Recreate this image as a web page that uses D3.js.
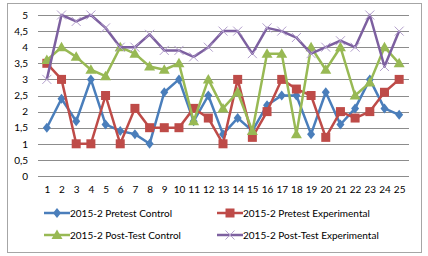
<!DOCTYPE html>
<html>
<head>
<meta charset="utf-8">
<script src="https://cdn.jsdelivr.net/npm/d3@7"></script>
<style>
  body { margin: 0; background: #fff; }
  svg text { font-family: Lato, "Open Sans", sans-serif; fill: #000; }
</style>
</head>
<body>
<div id="chart"></div>
<script>
// Data
const students = d3.range(1, 26).map(String);
const pretestControl = [1.5, 2.4, 1.7, 3.0, 1.6, 1.4, 1.3, 1.0, 2.6, 3.0, 1.7, 2.5, 1.3, 1.8, 1.4, 2.2, 2.5, 2.5, 1.3, 2.6, 1.6, 2.1, 3.0, 2.1, 1.9];
const pretestExperimental = [3.5, 3.0, 1.0, 1.0, 2.5, 1.0, 2.1, 1.5, 1.5, 1.5, 2.1, 1.8, 1.0, 3.0, 1.2, 2.0, 3.0, 2.7, 2.5, 1.2, 2.0, 1.8, 2.0, 2.6, 3.0];
const postControl = [3.6, 4.0, 3.7, 3.3, 3.1, 4.0, 3.8, 3.4, 3.3, 3.5, 1.7, 3.0, 2.1, 2.6, 1.4, 3.8, 3.8, 1.3, 4.0, 3.3, 4.0, 2.5, 2.9, 4.0, 3.5];
const postExperimental = [3.0, 5.0, 4.8, 5.0, 4.6, 4.0, 4.0, 4.4, 3.9, 3.9, 3.7, 4.0, 4.5, 4.5, 3.8, 4.6, 4.5, 4.3, 3.8, 4.0, 4.2, 4.0, 5.0, 3.4, 4.5];
const yTicks = [0, 0.5, 1, 1.5, 2, 2.5, 3, 3.5, 4, 4.5, 5];

const series = [
    { name: '2015-2 Pretest Control', values: pretestControl, color: '#4a7ebb', marker: 'diamond' },
    { name: '2015-2 Pretest Experimental', values: pretestExperimental, color: '#be4b48', marker: 'square' },
    { name: '2015-2 Post-Test Control', values: postControl, color: '#98b954', marker: 'triangle' },
    { name: '2015-2 Post-Test Experimental', values: postExperimental, color: '#7d60a0', marker: 'cross' }
];

const W = 428, H = 256;
const svg = d3.select('#chart').append('svg')
    .attr('width', W)
    .attr('height', H);

// chart frame
svg.append('rect')
    .attr('x', 7.5).attr('y', 3.5)
    .attr('width', 414).attr('height', 249)
    .attr('fill', '#fff')
    .attr('stroke', '#a6a6a6');

const x = d3.scalePoint().domain(students).range([39.5, 406.5]).padding(0.5);
const y = d3.scaleLinear().domain([0, 5]).range([176, 15]);

// grid lines
svg.append('g')
    .selectAll('line')
    .data(yTicks)
    .enter().append('line')
    .attr('x1', 38).attr('x2', 409)
    .attr('y1', d => Math.round(y(d)) + 0.5)
    .attr('y2', d => Math.round(y(d)) + 0.5)
    .attr('stroke', '#8c8c8c')
    .attr('stroke-width', 1);

// y axis labels
const fmt = d => String(d).replace('.', ',');
svg.append('g')
    .attr('transform', 'translate(28,0)')
    .call(d3.axisLeft(y).tickValues(yTicks).tickFormat(fmt).tickSize(0).tickPadding(0))
    .call(g => g.select('.domain').remove())
    .call(g => g.selectAll('text').attr('font-size', 10).attr('font-family', 'Lato, sans-serif'));

// x axis labels
svg.append('g')
    .attr('transform', 'translate(0,186)')
    .call(d3.axisBottom(x).tickSize(0).tickPadding(0))
    .call(g => g.select('.domain').remove())
    .call(g => g.selectAll('text').attr('font-size', 10).attr('font-family', 'Lato, sans-serif'));

// marker drawing
const drawMarker = (g, type, color, cx, cy) => {
    if (type === 'diamond') {
        g.append('path')
            .attr('d', `M${cx},${cy - 5}L${cx + 4},${cy}L${cx},${cy + 5}L${cx - 4},${cy}Z`)
            .attr('fill', color);
    } else if (type === 'square') {
        g.append('rect')
            .attr('x', cx - 4.5).attr('y', cy - 4.5)
            .attr('width', 9).attr('height', 9)
            .attr('fill', color);
    } else if (type === 'triangle') {
        g.append('path')
            .attr('d', `M${cx},${cy - 5.5}L${cx + 5.5},${cy + 4}L${cx - 5.5},${cy + 4}Z`)
            .attr('fill', color);
    } else {
        g.append('path')
            .attr('d', `M${cx - 4.5},${cy - 4.5}L${cx + 4.5},${cy + 4.5}M${cx + 4.5},${cy - 4.5}L${cx - 4.5},${cy + 4.5}`)
            .attr('stroke', '#b39fcc')
            .attr('stroke-width', 1);
    }
};

const line = d3.line()
    .x((d, i) => x(students[i]))
    .y(d => y(d));

series.forEach(s => {
    const g = svg.append('g');
    g.append('path')
        .datum(s.values)
        .attr('d', line)
        .attr('fill', 'none')
        .attr('stroke', s.color)
        .attr('stroke-width', 2.5)
        .attr('stroke-linejoin', 'round');
    s.values.forEach((v, i) => drawMarker(g, s.marker, s.color, x(students[i]), y(v)));
});

// legend
const legendPos = [[44, 213], [217, 213], [44, 235], [217, 235]];
series.forEach((s, i) => {
    const [lx, ly] = legendPos[i];
    const g = svg.append('g');
    g.append('line')
        .attr('x1', lx).attr('x2', lx + 26)
        .attr('y1', ly).attr('y2', ly)
        .attr('stroke', s.color)
        .attr('stroke-width', 2.5);
    drawMarker(g, s.marker, s.color, lx + 13, ly);
    g.append('text')
        .attr('x', lx + 26)
        .attr('y', ly + 3.5)
        .attr('font-size', 10)
        .text(s.name);
});
</script>
</body>
</html>
